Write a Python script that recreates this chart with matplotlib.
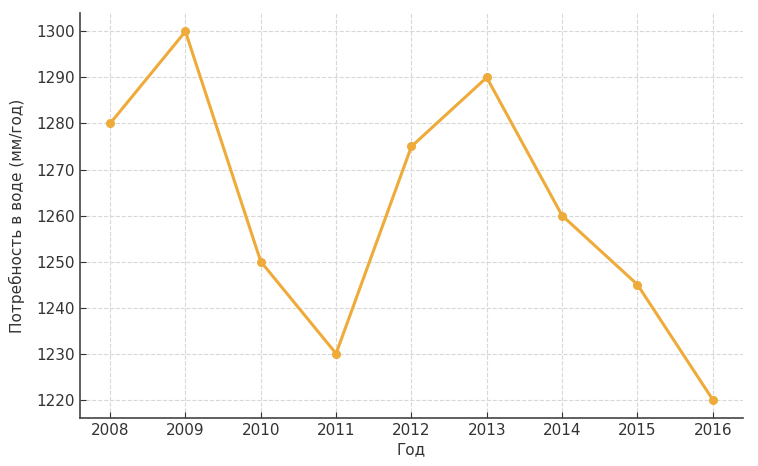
import matplotlib
matplotlib.use("Agg")
import matplotlib.pyplot as plt

years = [2008, 2009, 2010, 2011, 2012, 2013, 2014, 2015, 2016]
demand = [1280, 1300, 1250, 1230, 1275, 1290, 1260, 1245, 1220]
y_ticks = [1220, 1230, 1240, 1250, 1260, 1270, 1280, 1290, 1300]

plt.rcParams['font.family'] = ['DejaVu Sans']
text_col = '#333333'

fig = plt.figure(figsize=(7.58, 4.66), dpi=100)
ax = fig.add_axes([0.1055, 0.103, 0.8745, 0.869])

ax.plot(years, demand, color='#eeab3a', linewidth=2.2, marker='o', markersize=5.5)

ax.set_xticks(years)
ax.set_yticks(y_ticks)
ax.set_xlabel('Год', fontsize=11, color=text_col, labelpad=3)
ax.set_ylabel('Потребность в воде (мм/год)', fontsize=11, color=text_col, labelpad=8)
ax.tick_params(direction='in', labelsize=11, colors=text_col, length=4)
ax.grid(True, linestyle='--', color='#d8d8d8', linewidth=0.8)

for s in ['top', 'right']:
    ax.spines[s].set_visible(False)
for s in ['left', 'bottom']:
    ax.spines[s].set_color('#444444')
    ax.spines[s].set_linewidth(1.2)

fig.savefig('out.png', dpi=100)
